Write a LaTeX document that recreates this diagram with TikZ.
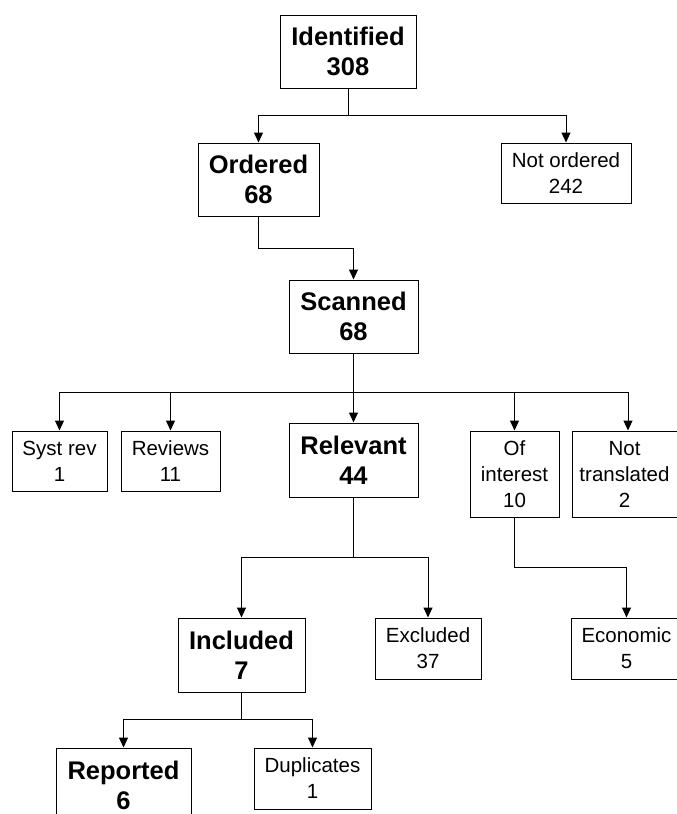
\documentclass[tikz,border=0pt]{standalone}
\usepackage{fontspec}
\setmainfont{Liberation Sans}
\usetikzlibrary{arrows.meta}
\begin{document}
\begin{tikzpicture}[x=1pt,y=-1pt,
  box/.style={draw, line width=1pt, rectangle, inner sep=0pt, align=center,
    font=\fontsize{20.5}{26}\selectfont},
  bbox/.style={box, font=\fontsize{25.5}{30}\selectfont\bfseries},
  arr/.style={line width=1pt, -{Triangle[length=10pt,width=9pt]}},
  ln/.style={line width=1pt}]
\useasboundingbox (0,0) rectangle (677,814);
% nodes
\node[bbox, minimum width=136pt, minimum height=73pt] (id) at (348,51.5) {Identified\\308};
\node[bbox, minimum width=121pt, minimum height=73pt] (ord) at (258.5,179.5) {Ordered\\68};
\node[box, minimum width=130pt, minimum height=60pt] (nord) at (566,173) {Not ordered\\242};
\node[bbox, minimum width=129pt, minimum height=73pt] (scan) at (353.5,316.5) {Scanned\\68};
\node[box, minimum width=95pt, minimum height=60pt] (syst) at (59.5,461) {Syst rev\\1};
\node[box, minimum width=99pt, minimum height=60pt] (rev) at (170.5,461) {Reviews\\11};
\node[bbox, minimum width=129pt, minimum height=74pt] (rel) at (353.5,460) {Relevant\\44};
\node[box, minimum width=89pt, minimum height=86pt] (oi) at (514.5,474) {Of\\interest\\10};
\node[box, minimum width=105pt, minimum height=86pt] (nt) at (624.5,474) {Not\\translated\\2};
\node[bbox, minimum width=127pt, minimum height=74pt] (inc) at (241.5,655) {Included\\7};
\node[box, minimum width=106pt, minimum height=61pt] (exc) at (428,648.5) {Excluded\\37};
\node[box, minimum width=111pt, minimum height=61pt] (eco) at (626.5,648.5) {Economic\\5};
\node[bbox, minimum width=135pt, minimum height=74pt] (repo) at (123.5,785) {Reported\\6};
\node[box, minimum width=117pt, minimum height=61pt] (dup) at (312.5,778.5) {Duplicates\\1};
% branch points
\coordinate (b1) at (348,115);
\coordinate (b2) at (353.5,248);
\coordinate (b3) at (353.5,392);
\coordinate (b4) at (353.5,557);
\coordinate (b5) at (514.5,567);
\coordinate (b6) at (241.5,719);
% connectors
\draw[ln] (id.south) -- (b1);
\draw[arr] (b1) -| (ord.north);
\draw[arr] (b1) -| (nord.north);
\draw[arr] (ord.south) |- (b2) -- (scan.north);
\draw[ln] (scan.south) -- (b3);
\draw[arr] (b3) -| (syst.north);
\draw[arr] (b3) -| (rev.north);
\draw[arr] (b3) -- (rel.north);
\draw[arr] (b3) -| (oi.north);
\draw[arr] (b3) -| ([xshift=3.5pt]nt.north);
\draw[ln] (rel.south) -- (b4);
\draw[arr] (b4) -| (inc.north);
\draw[arr] (b4) -| (exc.north);
\draw[arr] (oi.south) -- (b5) -| (eco.north);
\draw[ln] (inc.south) -- (b6);
\draw[arr] (b6) -| (repo.north);
\draw[arr] (b6) -| (dup.north);
\end{tikzpicture}
\end{document}
